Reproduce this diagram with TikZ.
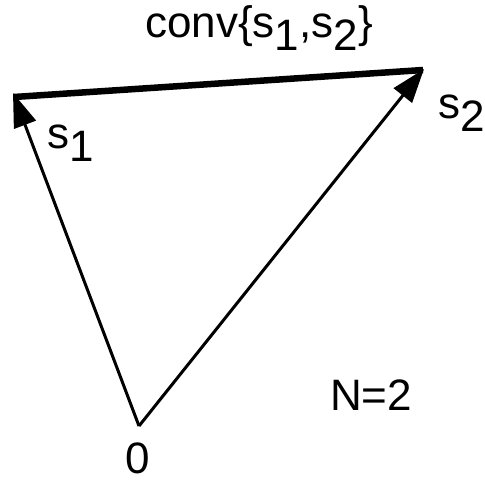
\documentclass[tikz,border=0pt]{standalone}
\usepackage{fontspec}
\setmainfont{Liberation Sans}
\usetikzlibrary{arrows.meta}
\newcommand\lowsub[1]{\raisebox{-13pt}{#1}}
\begin{document}
\begin{tikzpicture}[x=1pt,y=-1pt,
  lbl/.style={inner sep=0pt, anchor=base west, font=\fontsize{44}{50}\selectfont},
  vec/.style={line width=3pt, -{Triangle[length=34pt,width=23pt]}},
  hull/.style={line width=6.5pt}]
\useasboundingbox (0,0) rectangle (485,480);
\coordinate (O) at (139,426);
\coordinate (S1) at (13,93);
\coordinate (S2) at (424,69);
\coordinate (H1) at (14,97);
\coordinate (H2) at (423,70);
\draw[hull] (H1) -- (H2);
\draw[vec] (O) -- (S1);
\draw[vec] (O) -- (S2);
\node[lbl] (conv) at (145,37) {conv\{s\lowsub{1},s\lowsub{2}\}};
\node[lbl] (l1) at (47,148) {s\lowsub{1}};
\node[lbl] (l2) at (438,118) {s\lowsub{2}};
\node[lbl] (n) at (330,410) {N=2};
\node[lbl] (zero) at (125,473) {0};
\end{tikzpicture}
\end{document}
